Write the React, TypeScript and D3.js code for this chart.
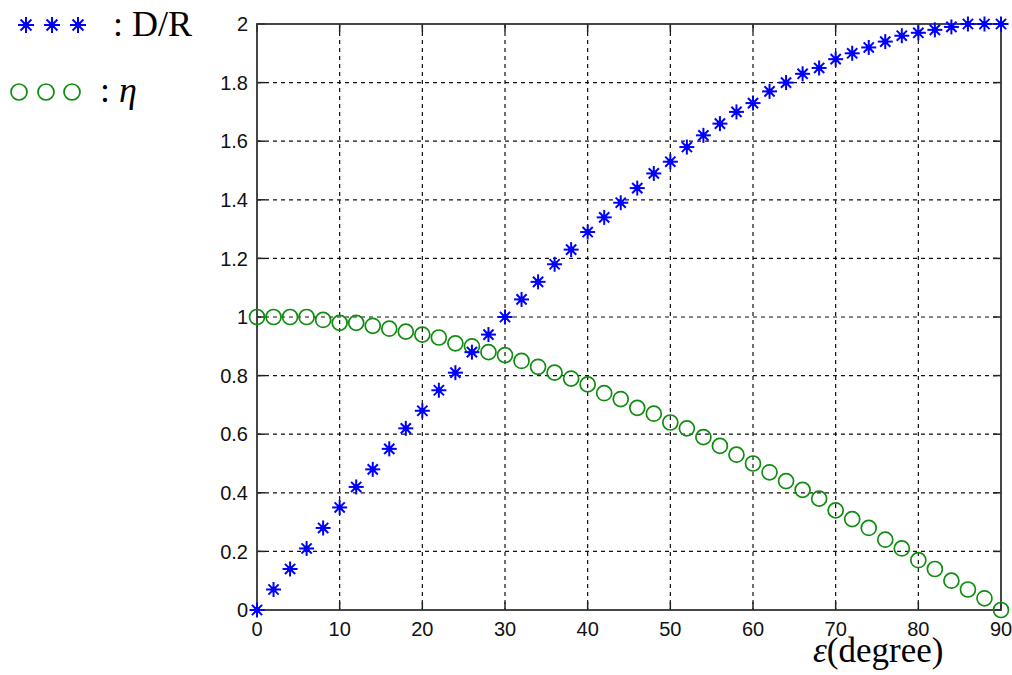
import React from "react";
import * as d3 from "d3";

// epsilon in degrees
const angles = [
  0, 2, 4, 6, 8, 10, 12, 14, 16, 18, 20, 22, 24, 26, 28, 30, 32, 34, 36, 38, 40, 42, 44,
  46, 48, 50, 52, 54, 56, 58, 60, 62, 64, 66, 68, 70, 72, 74, 76, 78, 80, 82, 84, 86, 88, 90,
];

// D/R
const ratioDR = [
  0.0, 0.07, 0.14, 0.21, 0.28, 0.35, 0.42, 0.48, 0.55, 0.62, 0.68, 0.75, 0.81, 0.88, 0.94,
  1.0, 1.06, 1.12, 1.18, 1.23, 1.29, 1.34, 1.39, 1.44, 1.49, 1.53, 1.58, 1.62, 1.66, 1.7,
  1.73, 1.77, 1.8, 1.83, 1.85, 1.88, 1.9, 1.92, 1.94, 1.96, 1.97, 1.98, 1.99, 2.0, 2.0, 2.0,
];

// eta
const eta = [
  1.0, 1.0, 1.0, 1.0, 0.99, 0.98, 0.98, 0.97, 0.96, 0.95, 0.94, 0.93, 0.91, 0.9, 0.88,
  0.87, 0.85, 0.83, 0.81, 0.79, 0.77, 0.74, 0.72, 0.69, 0.67, 0.64, 0.62, 0.59, 0.56, 0.53,
  0.5, 0.47, 0.44, 0.41, 0.38, 0.34, 0.31, 0.28, 0.24, 0.21, 0.17, 0.14, 0.1, 0.07, 0.04, 0.0,
];

const xTicks = [0, 10, 20, 30, 40, 50, 60, 70, 80, 90];
const yTicks = [0, 0.2, 0.4, 0.6, 0.8, 1, 1.2, 1.4, 1.6, 1.8, 2];

const W = 1012;
const H = 675;
const left = 257;
const right = 1001;
const top = 24;
const bottom = 610;

const BLUE = "#0000ff";
const GREEN = "#108c10";
const sans = "'Liberation Sans', Arial, sans-serif";
const serif = "'Liberation Serif', 'Times New Roman', serif";

function Star({ x, y, r = 7.5 }: { x: number; y: number; r?: number }) {
  const d = r * 0.68;
  return (
    <g stroke={BLUE} strokeWidth={2}>
      <line x1={x - r} x2={x + r} y1={y} y2={y} />
      <line x1={x} x2={x} y1={y - r} y2={y + r} />
      <line x1={x - d} x2={x + d} y1={y - d} y2={y + d} />
      <line x1={x - d} x2={x + d} y1={y + d} y2={y - d} />
      <circle cx={x} cy={y} r={3} fill={BLUE} stroke="none" />
    </g>
  );
}

function Ring({ x, y, r = 7.5 }: { x: number; y: number; r?: number }) {
  return <circle cx={x} cy={y} r={r} fill="none" stroke={GREEN} strokeWidth={1.7} />;
}

export default function App() {
  const x = d3.scaleLinear().domain([0, 90]).range([left, right]);
  const y = d3.scaleLinear().domain([0, 2]).range([bottom, top]);
  const tick = 8;

  return (
    <svg
      width={W}
      height={H}
      style={{ position: "absolute", left: 0, top: 0, background: "#fff" }}
    >
      {/* grid */}
      <g stroke="#111" strokeWidth={1.2} strokeDasharray="4,4">
        {xTicks.slice(1, -1).map((t) => (
          <line key={"gx" + t} x1={x(t)} x2={x(t)} y1={top} y2={bottom} />
        ))}
        {yTicks.slice(1, -1).map((t) => (
          <line key={"gy" + t} x1={left} x2={right} y1={y(t)} y2={y(t)} />
        ))}
      </g>

      {/* ticks */}
      <g stroke="#222" strokeWidth={1.5}>
        {xTicks.map((t) => (
          <g key={"tx" + t}>
            <line x1={x(t)} x2={x(t)} y1={bottom} y2={bottom - tick} />
            <line x1={x(t)} x2={x(t)} y1={top} y2={top + tick} />
          </g>
        ))}
        {yTicks.map((t) => (
          <g key={"ty" + t}>
            <line x1={left} x2={left + tick} y1={y(t)} y2={y(t)} />
            <line x1={right} x2={right - tick} y1={y(t)} y2={y(t)} />
          </g>
        ))}
      </g>

      {/* box */}
      <rect
        x={left}
        y={top}
        width={right - left}
        height={bottom - top}
        fill="none"
        stroke="#333"
        strokeWidth={1.8}
      />

      {/* tick labels */}
      <g fontFamily={sans} fontSize={20} fill="#111">
        {yTicks.map((t) => (
          <text key={"ly" + t} x={left - 9} y={y(t)} dy="0.36em" textAnchor="end">
            {String(t)}
          </text>
        ))}
        {xTicks.map((t) => (
          <text key={"lx" + t} x={x(t)} y={bottom + 26} textAnchor="middle">
            {String(t)}
          </text>
        ))}
      </g>

      {/* data */}
      {angles.map((a, i) => (
        <Ring key={"e" + a} x={x(a)} y={y(eta[i])} />
      ))}
      {angles.map((a, i) => (
        <Star key={"s" + a} x={x(a)} y={y(ratioDR[i])} />
      ))}

      {/* legend */}
      {[26, 52, 78].map((cx) => (
        <Star key={"ls" + cx} x={cx} y={25} r={8} />
      ))}
      <text x={113} y={36} fontFamily={serif} fontSize={36} fill="#000">
        : D/R
      </text>
      {[19, 46, 72].map((cx) => (
        <Ring key={"lr" + cx} x={cx} y={92} r={8} />
      ))}
      <text x={100} y={102} fontFamily={serif} fontSize={36} fill="#000">
        : <tspan fontStyle="italic">η</tspan>
      </text>

      {/* x axis label */}
      <text x={813} y={662} fontFamily={serif} fontSize={35} fill="#000">
        <tspan fontStyle="italic">ε</tspan>(degree)
      </text>
    </svg>
  );
}
